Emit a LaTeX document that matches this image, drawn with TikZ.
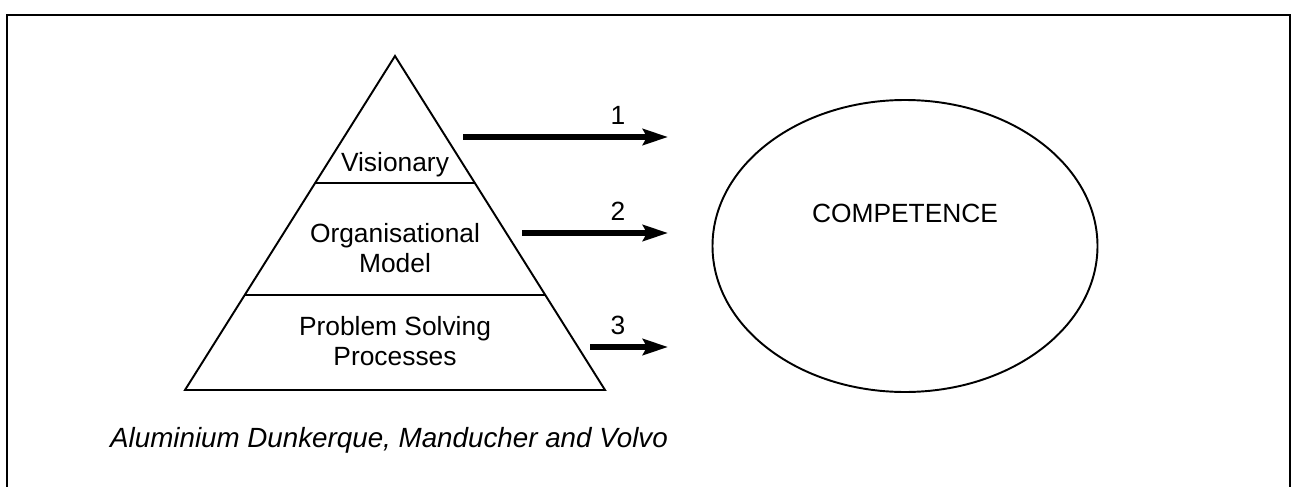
\documentclass[tikz,border=0pt]{standalone}
\usepackage{fontspec}
\setmainfont{Liberation Sans}
\usetikzlibrary{calc,arrows.meta,positioning,shapes.geometric}

\tikzset{
  layertext/.style={align=center, font=\fontsize{15}{17.5}\selectfont},
  flow/.style={line width=3pt, -{Stealth[length=5mm, width=3.2mm, inset=0.8mm]}},
  flowlabel/.style={font=\fontsize{15}{17.5}\selectfont}
}

\begin{document}
\begin{tikzpicture}[x=0.2mm, y=-0.2mm, line width=1.1pt]
\useasboundingbox (0,0) rectangle (1293,487);
% frame
\draw[line width=1.5pt] (7,487) -- (7,15) -- (1290,15) -- (1290,487);

% pyramid
\coordinate (apex) at (395,56);
\coordinate (baseL) at (185,390);
\coordinate (baseR) at (605,390);
\draw (apex) -- (baseL) -- (baseR) -- cycle;
\draw ($(apex)!0.379!(baseL)$) -- ($(apex)!0.379!(baseR)$);
\draw ($(apex)!0.716!(baseL)$) -- ($(apex)!0.716!(baseR)$);

\node[layertext] (visionary) at (395,165) {Visionary};
\node[layertext] (orgmodel) at (395,248) {Organisational\\Model};
\node[layertext] (problem) at (395,341) {Problem Solving\\Processes};

% competence
\node[draw, ellipse, minimum width=385*0.2mm, minimum height=292*0.2mm] (competence) at (905,246) {};
\node[layertext] (comptext) at (905,213) {COMPETENCE};

% links
\foreach \n/\xs/\y in {1/463/137, 2/522/233, 3/590/347}
{
\coordinate (from\n) at (\xs,\y);
\coordinate (to\n) at (668,\y);
\draw[flow] (from\n) -- (to\n);
\node[flowlabel] (num\n) at (618,\y-22) {\n};
}

\node[font=\fontsize{15.8}{18}\selectfont\itshape] (source) at (389,440) {Aluminium Dunkerque, Manducher and Volvo};
\end{tikzpicture}
\end{document}
